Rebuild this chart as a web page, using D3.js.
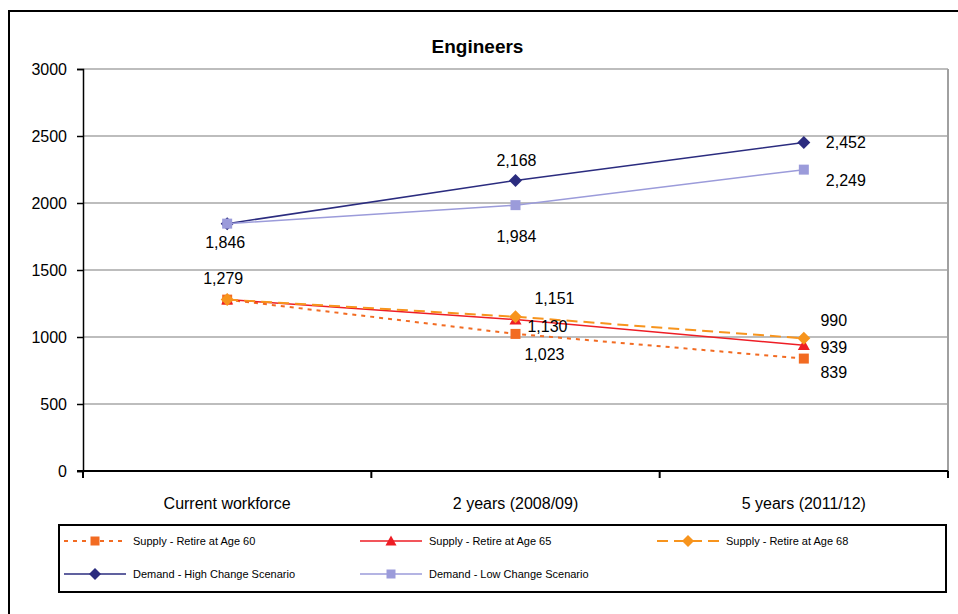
<!DOCTYPE html>
<html>
<head>
<meta charset="utf-8">
<script src="https://cdn.jsdelivr.net/npm/d3@7"></script>
<style>
  html, body { margin: 0; padding: 0; background: #fff; }
  svg { display: block; font-family: "Liberation Sans", Arial, sans-serif; }
</style>
</head>
<body>
<svg id="chart" width="958" height="614"></svg>
<script>
// Engineers: supply vs demand projections
const categories = ["Current workforce", "2 years (2008/09)", "5 years (2011/12)"];
const yTicks = [0, 500, 1000, 1500, 2000, 2500, 3000];

const seriesNames = [
  "Supply - Retire at Age 60",
  "Supply - Retire at Age 65",
  "Supply - Retire at Age 68",
  "Demand - High Change Scenario",
  "Demand - Low Change Scenario"
];
const supply60 = [1279, 1023, 839];
const supply65 = [1279, 1130, 939];
const supply68 = [1279, 1151, 990];
const demandHigh = [1846, 2168, 2452];
const demandLow = [1846, 1984, 2249];
const seriesValues = [supply60, supply65, supply68, demandHigh, demandLow];

// Styling per series
const styles = [
  { color: "#F26B22", width: 2,   dash: "4,5",   marker: "square",   size: 10 },
  { color: "#EE1D25", width: 1.5, dash: null,    marker: "triangle", size: 12 },
  { color: "#F7941D", width: 2,   dash: "11,6",  marker: "diamond",  size: 13 },
  { color: "#2B2C7F", width: 1.5, dash: null,    marker: "diamond",  size: 13 },
  { color: "#9B9BDA", width: 1.5, dash: null,    marker: "square",   size: 10 }
];

// Value label placement relative to each point (null = not labelled)
const labelOffsets = [
  [null,      [29, 26],  [30, 19]],
  [null,      [32, 12],  [30, 8]],
  [[-4, -16], [39, -13], [30, -12]],
  [null,      [1, -14],  [42, 6]],
  [[-2, 24],  [1, 37],   [42, 16]]
];

const svg = d3.select("#chart");

// Outer frame
svg.append("path")
  .attr("d", "M9,614 V11 H958")
  .attr("fill", "none").attr("stroke", "#000").attr("stroke-width", 2);

const plot = { left: 83, right: 948, top: 69, bottom: 471 };

const x = d3.scaleBand().domain(categories).range([plot.left, plot.right]).padding(0);
const y = d3.scaleLinear().domain([0, 3000]).range([plot.bottom, plot.top]);
const cx = c => x(c) + x.bandwidth() / 2;

// Title
svg.append("text")
  .attr("x", (plot.left + plot.right) / 2 - 38).attr("y", 53)
  .attr("text-anchor", "middle")
  .attr("font-size", 19).attr("font-weight", "bold")
  .text("Engineers");

// Gridlines
svg.append("g").selectAll("line").data(yTicks.filter(t => t > 0)).join("line")
  .attr("x1", plot.left).attr("x2", plot.right)
  .attr("y1", d => y(d)).attr("y2", d => y(d))
  .attr("stroke", "#BDBDBD").attr("stroke-width", 2);

// Right border of plot area
svg.append("line")
  .attr("x1", plot.right).attr("x2", plot.right)
  .attr("y1", plot.top).attr("y2", plot.bottom)
  .attr("stroke", "#A0A0A0").attr("stroke-width", 2);

// Y axis
const yAxis = d3.axisLeft(y).tickValues(yTicks).tickSize(6).tickPadding(10).tickFormat(d3.format("d"));
const gy = svg.append("g").attr("transform", `translate(${plot.left},0)`).call(yAxis);
gy.select(".domain").attr("stroke", "#000").attr("stroke-width", 1.5);
gy.selectAll(".tick line").attr("stroke", "#000").attr("stroke-width", 1.5);
gy.selectAll(".tick text").attr("font-size", 16).attr("fill", "#000")
  .attr("font-family", "Liberation Sans, Arial, sans-serif");

// X axis with ticks at category boundaries
const gx = svg.append("g").attr("transform", `translate(0,${plot.bottom})`);
gx.append("line")
  .attr("x1", plot.left - 6).attr("x2", plot.right)
  .attr("stroke", "#000").attr("stroke-width", 2);
gx.selectAll("line.b").data(categories.map(c => x(c)).concat([plot.right])).join("line")
  .attr("class", "b")
  .attr("x1", d => d).attr("x2", d => d).attr("y1", 0).attr("y2", 7)
  .attr("stroke", "#000").attr("stroke-width", 2);
gx.selectAll("text").data(categories).join("text")
  .attr("x", d => cx(d)).attr("y", 38)
  .attr("text-anchor", "middle").attr("font-size", 16)
  .text(d => d);

// Marker shapes
function markerPath(type, s) {
  const h = s / 2;
  if (type === "square") return `M${-h},${-h}H${h}V${h}H${-h}Z`;
  if (type === "diamond") return `M0,${-h}L${h},0L0,${h}L${-h},0Z`;
  if (type === "triangle") return `M0,${-h}L${h},${h * 0.8}L${-h},${h * 0.8}Z`;
  return "";
}

const line = d3.line().x((d, i) => cx(categories[i])).y(d => y(d));

const seriesG = svg.append("g").selectAll("g").data(seriesValues).join("g");
seriesG.append("path")
  .attr("d", d => line(d))
  .attr("fill", "none")
  .attr("stroke", (d, i) => styles[i].color)
  .attr("stroke-width", (d, i) => styles[i].width)
  .attr("stroke-dasharray", (d, i) => styles[i].dash);
seriesG.each(function (vals, si) {
  const st = styles[si];
  d3.select(this).selectAll("path.m").data(vals).join("path")
    .attr("class", "m")
    .attr("transform", (v, i) => `translate(${cx(categories[i])},${y(v)})`)
    .attr("d", markerPath(st.marker, st.size))
    .attr("fill", st.color);
});

// Value labels
const fmt = d3.format(",");
seriesValues.forEach((vals, si) => {
  vals.forEach((v, i) => {
    const off = labelOffsets[si][i];
    if (!off) return;
    svg.append("text")
      .attr("x", cx(categories[i]) + off[0])
      .attr("y", y(v) + off[1])
      .attr("text-anchor", "middle")
      .attr("font-size", 16)
      .text(fmt(v));
  });
});

// Legend
const legend = svg.append("g");
legend.append("rect")
  .attr("x", 59).attr("y", 525).attr("width", 887).attr("height", 67)
  .attr("fill", "#fff").attr("stroke", "#000").attr("stroke-width", 2);
const legendPos = [
  [64, 541], [360, 541], [657, 541],
  [64, 574], [360, 574]
];
seriesNames.forEach((name, i) => {
  const [lx, ly] = legendPos[i];
  const st = styles[i];
  const g = legend.append("g");
  g.append("line")
    .attr("x1", lx).attr("x2", lx + 62).attr("y1", ly).attr("y2", ly)
    .attr("stroke", st.color).attr("stroke-width", st.width)
    .attr("stroke-dasharray", st.dash);
  g.append("path")
    .attr("transform", `translate(${lx + 31},${ly})`)
    .attr("d", markerPath(st.marker, st.size - 1))
    .attr("fill", st.color);
  g.append("text")
    .attr("x", lx + 69).attr("y", ly + 4)
    .attr("font-size", 11)
    .text(name);
});
</script>
</body>
</html>
